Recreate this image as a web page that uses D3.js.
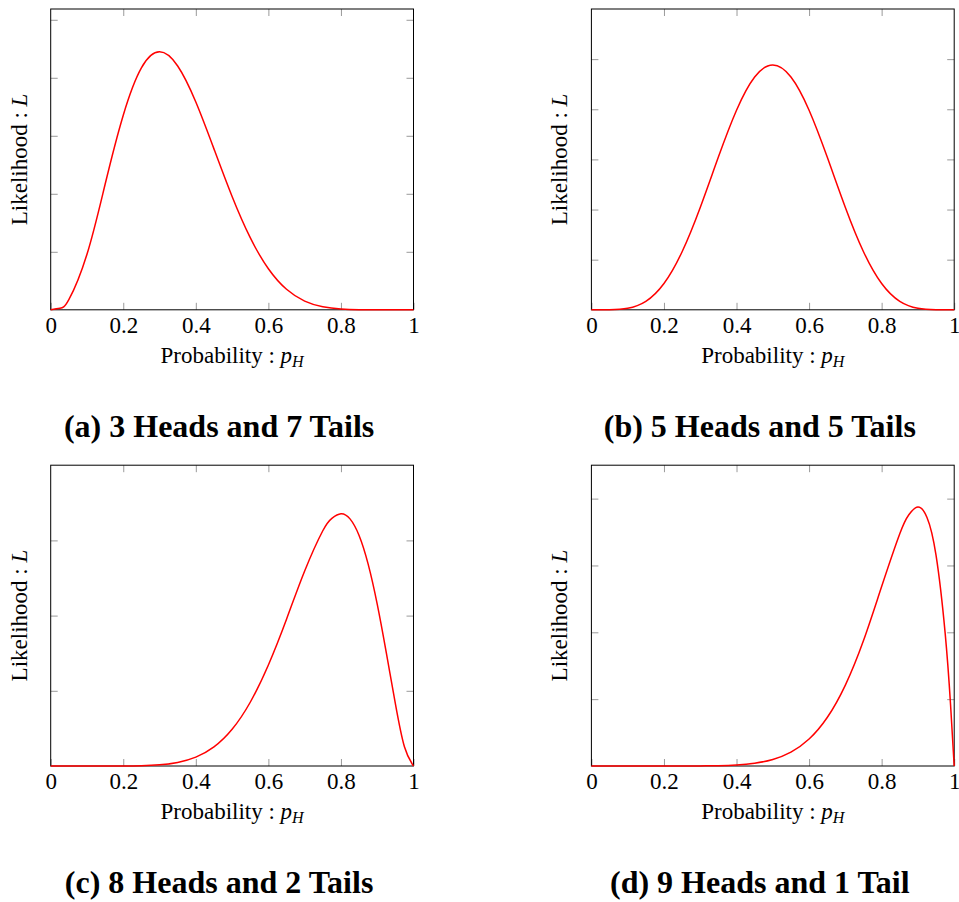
<!DOCTYPE html>
<html>
<head>
<meta charset="utf-8">
<script src="https://cdn.jsdelivr.net/npm/d3@7"></script>
<style>
  body { margin: 0; background: #fff; }
  svg { display: block; }
  .tick line { stroke: #9a9a9a; }
</style>
</head>
<body>
<div id="chart"></div>
<script>
const probA = [0, 0.025, 0.05, 0.1, 0.15, 0.2, 0.25, 0.3, 0.35, 0.4, 0.45, 0.5, 0.55, 0.6, 0.65, 0.7, 0.75, 0.8, 0.85, 0.9, 0.95, 1];
const likeA = [0, 1.31e-5, 8.73e-5, 4.783e-4, 1.082e-3, 1.6777e-3, 2.0856e-3, 2.2236e-3, 2.1018e-3, 1.7916e-3, 1.3873e-3,
    9.766e-4, 6.217e-4, 3.539e-4, 1.767e-4, 7.5e-5, 2.57e-5, 6.55e-6, 1.05e-6, 7e-8, 0, 0];

const probB = [0, 0.05, 0.1, 0.15, 0.2, 0.25, 0.3, 0.35, 0.4, 0.45, 0.5, 0.55, 0.6, 0.65, 0.7, 0.75, 0.8, 0.85, 0.9, 0.95, 1];
const likeB = [0, 2.42e-7, 5.905e-6, 3.369e-5, 1.0486e-4, 2.3174e-4, 4.0841e-4, 6.0942e-4, 7.9626e-4, 9.287e-4, 9.766e-4,
    9.287e-4, 7.9626e-4, 6.0942e-4, 4.0841e-4, 2.3174e-4, 1.0486e-4, 3.369e-5, 5.905e-6, 2.42e-7, 0];

const probC = [0, 0.05, 0.1, 0.15, 0.2, 0.25, 0.3, 0.35, 0.4, 0.45, 0.5, 0.55, 0.6, 0.65, 0.7, 0.75, 0.775, 0.8, 0.825, 0.85,
    0.875, 0.9, 0.925, 0.95, 0.975, 1];
const likeC = [0, 0, 8.1e-9, 1.85e-7, 1.638e-6, 8.583e-6, 3.215e-5, 9.514e-5, 2.3593e-4, 5.0865e-4, 9.766e-4, 1.6956e-3,
    2.6874e-3, 3.9034e-3, 5.1883e-3, 6.257e-3, 6.588e-3, 6.7109e-3, 6.572e-3, 6.131e-3, 5.3689e-3, 4.3047e-3, 3.0148e-3,
    1.6586e-3, 5.104e-4, 0];

const probD = [0, 0.05, 0.1, 0.15, 0.2, 0.25, 0.3, 0.35, 0.4, 0.45, 0.5, 0.55, 0.6, 0.65, 0.7, 0.75, 0.8, 0.85, 0.875,
    0.9, 0.925, 0.95, 0.975, 0.99, 1];
const likeD = [0, 0, 9e-10, 3.27e-8, 4.096e-7, 2.861e-6, 1.3778e-5, 5.123e-5, 1.5729e-4, 4.1617e-4, 9.766e-4, 2.0724e-3,
    4.0311e-3, 7.2491e-3, 0.012106, 0.018771, 0.026844, 0.034743, 0.037582, 0.038742, 0.037182, 0.031512, 0.019906,
    9.135e-3, 0];

const xTicks = [0, 0.2, 0.4, 0.6, 0.8, 1];
const yMaxes = [2.593e-3, 1.2e-3, 8e-3, 0.045];
const yTicksA = [5e-4, 1e-3, 1.5e-3, 2e-3, 2.5e-3];
const yTicksB = [2e-4, 4e-4, 6e-4, 8e-4, 1e-3];
const yTicksC = [2e-3, 4e-3, 6e-3];
const yTicksD = [0.01, 0.02, 0.03, 0.04];
const captions = ["(a) 3 Heads and 7 Tails", "(b) 5 Heads and 5 Tails", "(c) 8 Heads and 2 Tails", "(d) 9 Heads and 1 Tail"];

const width = 959, height = 902;
const colLeft = [50.7, 591.4], rowTop = [9, 465.2];
const plotW = 362.8, plotH = 300.8;
const tickLen = 7;
const serif = "'Liberation Serif', 'Times New Roman', serif";

const svg = d3.select("#chart").append("svg")
    .attr("width", width)
    .attr("height", height);

const panels = [
    {p: probA, L: likeA, yMax: yMaxes[0], yTicks: yTicksA, col: 0, row: 0, caption: captions[0]},
    {p: probB, L: likeB, yMax: yMaxes[1], yTicks: yTicksB, col: 1, row: 0, caption: captions[1]},
    {p: probC, L: likeC, yMax: yMaxes[2], yTicks: yTicksC, col: 0, row: 1, caption: captions[2]},
    {p: probD, L: likeD, yMax: yMaxes[3], yTicks: yTicksD, col: 1, row: 1, caption: captions[3]}
];

panels.forEach(d => {
    const left = colLeft[d.col], top = rowTop[d.row];
    const g = svg.append("g").attr("transform", `translate(${left},${top})`);

    const x = d3.scaleLinear().domain([0, 1]).range([0, plotW]);
    const y = d3.scaleLinear().domain([0, d.yMax]).range([plotH, 0]);

    // ticks point inward on all four sides
    g.append("g")
        .attr("transform", `translate(0,${plotH})`)
        .call(d3.axisBottom(x).tickValues(xTicks).tickSize(-tickLen).tickPadding(7).tickFormat(d3.format("")))
        .call(a => a.select(".domain").remove())
        .call(a => a.selectAll(".tick text")
            .attr("dy", "0.71em")
            .attr("fill", "#000")
            .style("font-family", serif)
            .style("font-size", "23px"));
    g.append("g")
        .call(d3.axisTop(x).tickValues(xTicks.slice(1, -1)).tickSize(-tickLen).tickFormat(""))
        .call(a => a.select(".domain").remove());
    g.append("g")
        .call(d3.axisLeft(y).tickValues(d.yTicks).tickSize(-tickLen).tickFormat(""))
        .call(a => a.select(".domain").remove());
    g.append("g")
        .attr("transform", `translate(${plotW},0)`)
        .call(d3.axisRight(y).tickValues(d.yTicks).tickSize(-tickLen).tickFormat(""))
        .call(a => a.select(".domain").remove());

    g.append("rect")
        .attr("width", plotW)
        .attr("height", plotH)
        .attr("fill", "none")
        .attr("stroke", "#000")
        .attr("stroke-width", 1);

    const line = d3.line()
        .x((v, i) => x(d.p[i]))
        .y(v => y(v))
        .curve(d3.curveNatural);

    g.append("path")
        .datum(d.L)
        .attr("fill", "none")
        .attr("stroke", "#ff0000")
        .attr("stroke-width", 1.5)
        .attr("d", line);

    // x label
    const xl = g.append("text")
        .attr("x", plotW / 2)
        .attr("y", plotH + 53)
        .attr("text-anchor", "middle")
        .style("font-family", serif)
        .style("font-size", "23px");
    xl.append("tspan").text("Probability : ");
    xl.append("tspan").style("font-style", "italic").text("p");
    xl.append("tspan").style("font-style", "italic").style("font-size", "16px").attr("dy", 4).text("H");

    // y label
    const yl = g.append("text")
        .attr("transform", `translate(-24,${plotH / 2}) rotate(-90)`)
        .attr("text-anchor", "middle")
        .style("font-family", serif)
        .style("font-size", "23px");
    yl.append("tspan").text("Likelihood : ");
    yl.append("tspan").style("font-style", "italic").text("L");

    // caption under each panel
    svg.append("text")
        .attr("x", left + plotW / 2 - 13)
        .attr("y", d.row === 0 ? 437 : 893)
        .attr("text-anchor", "middle")
        .style("font-family", serif)
        .style("font-weight", "bold")
        .style("font-size", "32px")
        .text(d.caption);
});
</script>
</body>
</html>
